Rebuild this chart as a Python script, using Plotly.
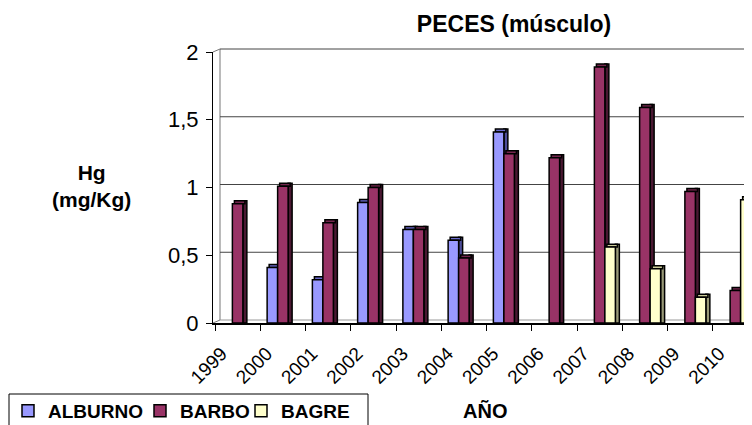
import plotly.graph_objects as go

years = ["1999", "2000", "2001", "2002", "2003", "2004", "2005", "2006", "2007", "2008", "2009", "2010"]
alburno = [None, 0.41, 0.32, 0.89, 0.69, 0.61, 1.41, None, None, None, None, None]
barbo = [0.88, 1.01, 0.74, 1.0, 0.69, 0.48, 1.25, 1.22, 1.89, 1.59, 0.97, 0.24]
bagre = [None, None, None, None, None, None, None, None, 0.56, 0.40, 0.19, 0.91]
grid_vals = [0.5, 1.0, 1.5, 2.0]

FONT = "Arial, Liberation Sans, sans-serif"
W, H = 752, 425
PAGE = 8  # the page body margin shifts the figure by this much
L, T, B = 213 - PAGE, 52 - PAGE, 323 - PAGE  # plot area, figure px
PLOT_W, PLOT_H = W - L, B - T
CAT = 45.25  # px per category
BAR_W = 0.232
SIDE_W = 0.088
LIFT = 0.022  # 3D depth, in y units
DX, DY = 7 / PLOT_W, 3 / PLOT_H  # depth offset of the back wall, paper units


def px(x):  # screen px -> paper x
    return (x - PAGE - L) / PLOT_W


def py(y):  # screen px -> paper y
    return (B - (y - PAGE)) / PLOT_H


series = [
    ("ALBURNO", alburno, "#9999FF", "#6a6acc", "#4d4d99", -0.348, "legend", 8),
    ("BARBO", barbo, "#993366", "#73264d", "#4a1832", -0.116, "legend2", 140),
    ("BAGRE", bagre, "#FFFFCC", "#cccc99", "#999977", 0.116, "legend3", 241),
]

fig = go.Figure()

# back wall / floor of the 3D frame, gridlines on the back wall
wall = dict(color="#777777", width=1)
fig.add_shape(type="line", xref="paper", yref="paper", x0=DX, x1=DX, y0=DY, y1=1 + DY, line=wall, layer="below")
fig.add_shape(type="line", xref="paper", yref="paper", x0=0, x1=DX, y0=0, y1=DY, line=wall, layer="below")
fig.add_shape(type="line", xref="paper", yref="paper", x0=0, x1=DX, y0=1, y1=1 + DY, line=wall, layer="below")
fig.add_shape(type="line", xref="paper", yref="paper", x0=DX, x1=1, y0=DY, y1=DY,
              line=dict(color="#999999", width=1), layer="below")
for g in grid_vals:
    fig.add_shape(type="line", xref="paper", yref="paper", x0=DX, x1=1, y0=g / 2 + DY, y1=g / 2 + DY,
                  line=dict(color="#444444", width=1), layer="below")

for name, vals, col, top_col, side_col, off, leg, _ in series:
    line = dict(color="black", width=1.5)
    # right side face
    fig.add_trace(go.Bar(x=years, y=[None if v is None else v + LIFT for v in vals], offset=off + BAR_W, width=SIDE_W,
                         marker=dict(color=side_col, line=line), showlegend=False, hoverinfo="skip"))
    # top face
    fig.add_trace(go.Bar(x=years, y=[None if v is None else LIFT for v in vals], base=vals, offset=off + 0.045, width=BAR_W,
                         marker=dict(color=top_col, line=line), showlegend=False, hoverinfo="skip"))
    # front face
    fig.add_trace(go.Bar(x=years, y=vals, offset=off, width=BAR_W, name=f"<b>{name}</b>", legend=leg,
                         marker=dict(color=col, line=line)))

x0 = -0.5 - 2 / CAT
fig.update_xaxes(
    type="category", range=[x0, x0 + PLOT_W / CAT], tickson="boundaries", ticks="outside", ticklen=6,
    tickcolor="black", showline=True, linecolor="black", linewidth=2, showgrid=False, tickangle=-45,
    tickfont=dict(family=FONT, size=19, color="black"), automargin=False,
    ticklabelshift=-16, ticklabelstandoff=10,
)
fig.update_yaxes(
    range=[0, 2], dtick=0.5, ticks="outside", ticklen=6, tickcolor="black", showline=True, linecolor="black",
    linewidth=1, showgrid=False, zeroline=False, automargin=False,
    tickfont=dict(family=FONT, size=22, color="black"), ticklabelstandoff=3,
)

fig.add_annotation(text="<b>Hg<br>(mg/Kg)</b>", xref="paper", yref="paper", x=px(91), y=py(186),
                   xanchor="center", yanchor="middle", showarrow=False,
                   font=dict(family=FONT, size=21, color="black"))
fig.add_annotation(text="<b>AÑO</b>", xref="paper", yref="paper", x=px(485), y=py(411),
                   xanchor="center", yanchor="middle", showarrow=False,
                   font=dict(family=FONT, size=20, color="black"))

# legend frame
fig.add_shape(type="rect", xref="paper", yref="paper", x0=px(9), x1=px(368), y0=py(445), y1=py(394),
              line=dict(color="black", width=1), fillcolor="white", layer="below")

legends = {}
for name, *_, leg, left in series:
    legends[leg] = dict(orientation="h", xref="paper", x=px(left), xanchor="left", yref="container",
                        y=1 - (392 - PAGE) / H, yanchor="top", borderwidth=0, bgcolor="rgba(0,0,0,0)",
                        font=dict(family=FONT, size=19, color="black"), itemwidth=30)

fig.update_layout(
    template="none", width=W, height=H, barmode="overlay", separators=",.",
    paper_bgcolor="white", plot_bgcolor="white",
    margin=dict(l=L, r=0, t=T, b=H - B),
    title=dict(text="<b>PECES (músculo)</b>", xref="container", x=(514 - PAGE) / W, xanchor="center",
               yref="container", y=1 - (24 - PAGE) / H, yanchor="middle",
               font=dict(family=FONT, size=23, color="black")),
    font=dict(family=FONT),
    hovermode=False,
    **legends,
)

fig.write_html("out.html")
